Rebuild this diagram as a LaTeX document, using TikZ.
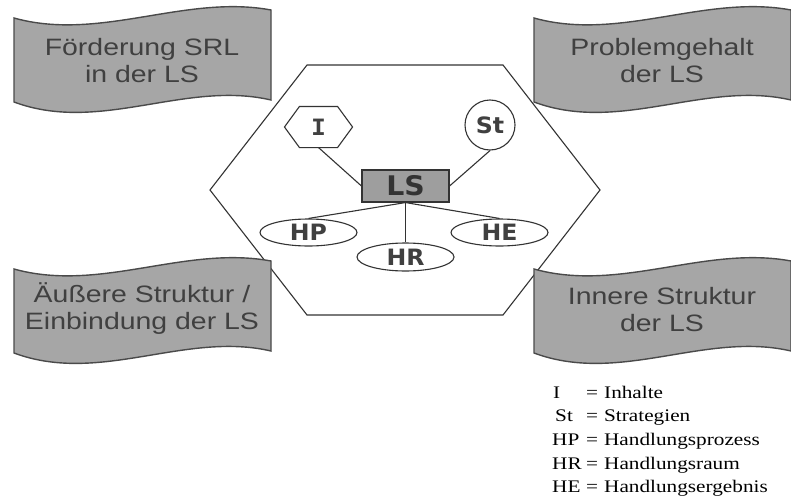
\documentclass[tikz,border=0pt]{standalone}
\usepackage{fontspec}
\usetikzlibrary{shapes.geometric,calc}
\newfontfamily\bannerfont[FakeStretch=1.2]{Liberation Sans}
\newfontfamily\nodefont[FakeStretch=1.05]{DejaVu Sans}
\newfontfamily\nodemono[FakeStretch=1.1]{DejaVu Sans Mono}
\newfontfamily\legendfont[FakeStretch=1.2]{Liberation Serif}
\definecolor{bannerfill}{HTML}{A6A6A6}
\definecolor{bannerline}{HTML}{4A4A4A}
\definecolor{darktext}{HTML}{404040}
\definecolor{linecol}{HTML}{333333}
\definecolor{lsfill}{HTML}{9E9E9E}
\begin{document}
\begin{tikzpicture}[x=1pt,y=-1pt,
  banner/.style={fill=bannerfill, draw=bannerline, line width=1.4pt},
  bannertext/.style={align=center, text=darktext, inner sep=0pt,
    font={\bannerfont\fontsize{23.7}{27}\selectfont}},
  conn/.style={draw=linecol, line width=1.1pt},
  smallnode/.style={draw=linecol, line width=1.1pt, inner sep=0pt, text=darktext,
    font={\nodefont\bfseries\fontsize{22.5}{24}\selectfont}},
  ovalnode/.style={smallnode, ellipse, minimum width=97pt, minimum height=27pt},
]
\useasboundingbox (0,0) rectangle (791,503);
\fill[white] (0,0) rectangle (791,503);

% big hexagon
\draw[draw=linecol, line width=1.1pt, fill=white]
  (307,65) -- (503,65) -- (600,190) -- (503,315) -- (307,315) -- (210,190) -- cycle;

% banners
\foreach \dx/\dy in {0/0, 520/0, 0/251, 520/251}{
  \path[banner, shift={(\dx,\dy)}]
    (14,18) .. controls (100,42) and (185,-6) .. (271,10)
    -- (271,100) .. controls (185,80) and (100,134) .. (14,102) -- cycle;
}
\node[bannertext] (srl) at (142,61) {Förderung SRL\\in der LS};
\node[bannertext] (problem) at (662,61) {Problemgehalt\\der LS};
\node[bannertext] (aussen) at (142,309) {Äußere Struktur /\\Einbindung der LS};
\node[bannertext] (innen) at (662,310) {Innere Struktur\\der LS};

% inner nodes
\node[smallnode, draw=none, minimum width=67pt, minimum height=40pt,
  font={\nodemono\bfseries\fontsize{22.5}{24}\selectfont}] (I) at (318.5,127) {I};
\draw[conn] (I.west) -- ([xshift=15pt]I.north west) -- ([xshift=-15pt]I.north east)
  -- (I.east) -- ([xshift=-15pt]I.south east) -- ([xshift=15pt]I.south west) -- cycle;
\node[smallnode, circle, minimum size=50pt] (St) at (490,125) {St};
\node[smallnode, rectangle, fill=lsfill, minimum width=87pt, minimum height=32pt,
  font={\nodefont\bfseries\fontsize{27}{28}\selectfont}, text=linecol] (LS) at (405.5,186) {LS};
\node[ovalnode] (HP) at (308.5,232.5) {HP};
\node[ovalnode] (HE) at (499.5,232.5) {HE};
\node[ovalnode, minimum height=28pt] (HR) at (405.5,257) {HR};

\draw[conn] (I.south) -- (LS.west);
\draw[conn] (St.south) -- (LS.east);
\draw[conn] (LS.south) -- (HP.north);
\draw[conn] (LS.south) -- (HE.north);
\draw[conn] (LS.south) -- (HR.north);

% legend
\node[anchor=north west, inner sep=0pt, text=black,
  font={\legendfont\fontsize{17.7}{23.7}\selectfont}] (legend) at (552,381.4) {%
  \begin{tabular}{@{}l@{}l@{\hspace{6pt}}l@{}}
  \makebox[34pt][l]{\hspace{1pt}I} & = & Inhalte\\
  \makebox[34pt][l]{\hspace{3pt}St} & = & Strategien\\
  \makebox[34pt][l]{HP} & = & Handlungsprozess\\
  \makebox[34pt][l]{HR} & = & Handlungsraum\\
  \makebox[34pt][l]{HE} & = & Handlungsergebnis
  \end{tabular}};
\end{tikzpicture}
\end{document}
